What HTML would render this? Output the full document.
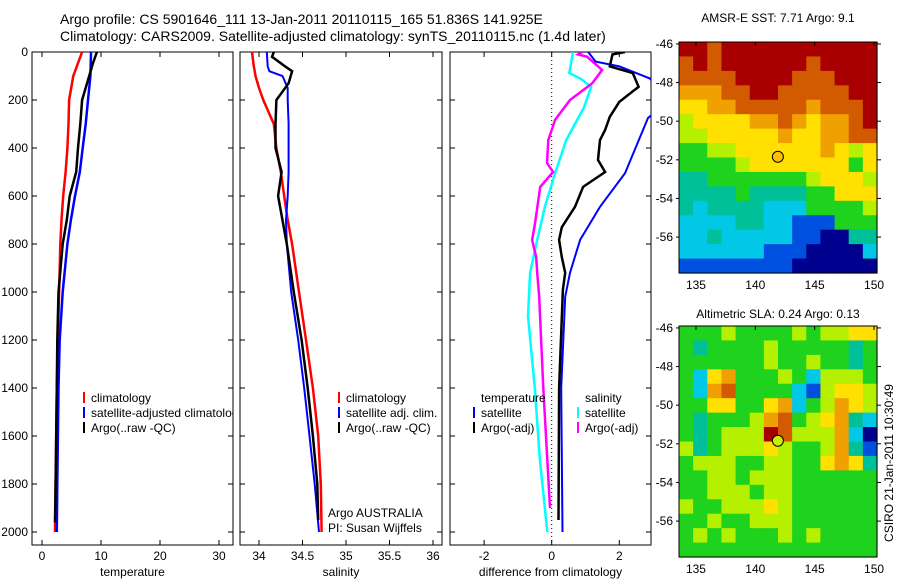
<!DOCTYPE html>
<html><head><meta charset="utf-8"><style>
body{margin:0;background:#fff}
svg{display:block;font-family:"Liberation Sans",sans-serif}
</style></head><body>
<svg id="fig" width="900" height="580" viewBox="0 0 900 580"></svg>
<script>
// ---- data ----
const depthTicks=[0,200,400,600,800,1000,1200,1400,1600,1800,2000];
const tempTicks=[0,10,20,30];
const salTicks=[34,34.5,35,35.5,36];
const diffTicks=[-2,0,2];
const zDepths=[0,100,200,300,400,500,600,700,800,1000,1200,1400,1600,1800,2000];
const tempClim=[6.8,5.3,4.6,4.5,4.3,4.0,3.6,3.3,3.1,2.9,2.7,2.5,2.4,2.3,2.2];
const tempSat=[8.3,8.2,7.8,7.4,6.9,6.4,5.6,4.9,4.3,3.5,3.0,2.8,2.7,2.6,2.5];
const argoDepths=[0,50,100,200,300,400,500,600,700,800,1000,1200,1400,1600,1800,1960];
const tempArgo=[9.3,8.6,8.0,6.8,6.5,6.1,5.8,4.7,4.2,3.5,2.8,2.6,2.5,2.4,2.3,2.2];
const salDepths=[0,60,80,100,150,200,300,400,500,600,700,800,1000,1200,1400,1600,1800,2000];
const salClim=[33.92,33.94,33.95,33.96,34.0,34.05,34.17,34.2,34.25,34.29,34.33,34.38,34.46,34.54,34.62,34.68,34.71,34.72];
const salSat=[34.09,34.1,34.12,34.27,34.33,34.33,34.34,34.34,34.34,34.33,34.31,34.32,34.37,34.45,34.52,34.58,34.64,34.69];
const salArgoDepths=[0,20,60,80,130,200,300,400,500,600,800,1000,1200,1400,1600,1800,1950];
const salArgo=[34.17,34.15,34.3,34.38,34.34,34.2,34.19,34.19,34.26,34.22,34.32,34.4,34.49,34.56,34.62,34.67,34.68];
const dTempSatDepths=[0,40,60,110,200,275,505,645,783,920,1020,1400,2000];
const dTempSat=[1.08,1.3,2.0,2.9,3.5,2.85,2.17,1.43,0.84,0.54,0.4,0.28,0.32];
const dTempArgoDepths=[0,10,60,88,145,208,270,325,367,450,500,562,645,730,783,854,920,990,1400,1950];
const dTempArgo=[2.17,1.8,1.72,2.4,2.57,2.0,1.72,1.58,1.43,1.37,1.58,0.93,0.69,0.3,0.22,0.3,0.4,0.33,0.22,0.2];
const dSalSatDepths=[0,88,110,145,230,367,505,645,783,920,1100,1400,1700,2000];
const dSalSat=[0.63,0.52,0.84,1.17,0.96,0.43,0.1,-0.2,-0.43,-0.64,-0.7,-0.5,-0.35,-0.13];
const dSalArgoDepths=[0,10,20,75,130,200,283,367,462,500,562,712,783,854,920,1020,1400,1900];
const dSalArgo=[0.9,0.78,1.05,1.49,1.2,0.54,0.1,-0.1,-0.14,0.04,-0.34,-0.49,-0.58,-0.46,-0.43,-0.37,-0.25,-0.05];
const lonTicks=[135,140,145,150];
const latTicks=[-46,-48,-50,-52,-54,-56];
const sstGrid=["99899999999999","89899999989999","88889999888999","77788998888899","66778888878889","56666778767789","55666667667788","44556666667656","44445666666646","33444444456665","33334333344666","32333322244445","22223322111444","22322222110033","22222211100002","11111111000000"];
const slaGrid=["44454444545566","43444454444434","44444454454434","42674445425554","42784444215665","44664467245765","43444578456732","43455598555720","53455565445731","45554455446763","44554555444444","44555455444444","54455565444444","44544555444444","45454445454444","44444444444444"];
const argoLon=141.9, argoLat=-51.84;
const palette=["#00008f","#0050e0","#00c8e6","#00c09a","#1ed21e","#b4f000","#ffe000","#f0a000","#d25a00","#a80000"];

// ---- helpers ----
const NS="http://www.w3.org/2000/svg";
const svg=document.getElementById('fig');
function mk(tag,attrs,parent){const e=document.createElementNS(NS,tag);for(const k in attrs)e.setAttribute(k,attrs[k]);(parent||svg).appendChild(e);return e;}
function txt(s,x,y,anchor,size,parent){const t=mk('text',{x:x,y:y,'text-anchor':anchor||'start','font-size':size||12,fill:'#000'},parent);t.textContent=s;return t;}
const yTop=52, pxPerM=0.24, yBot=545;
const yD=d=>yTop+d*pxPerM;

function panel(name,x0,x1,xs,ticks,tickFmt,label,showYLabels){
  const g=mk('g',{});
  
  
  const cid='clip-'+name;
  const cp=mk('clipPath',{id:cid},g);mk('rect',{x:x0,y:yTop,width:x1-x0,height:yBot-yTop},cp);
  const frame=mk('rect',{x:x0,y:yTop,width:x1-x0,height:yBot-yTop,fill:'none',stroke:'#000','stroke-width':1},g);
  
  
  depthTicks.forEach(d=>{const y=yD(d);
    mk('line',{x1:x0,x2:x0+5,y1:y,y2:y,stroke:'#000'},g);mk('line',{x1:x1-5,x2:x1,y1:y,y2:y,stroke:'#000'},g);
    if(showYLabels){const t=txt(String(d),x0-4,y+4,'end',12,g);}
  });
  ticks.forEach(v=>{const x=xs(v);
    mk('line',{x1:x,x2:x,y1:yBot,y2:yBot-5,stroke:'#000'},g);mk('line',{x1:x,x2:x,y1:yTop,y2:yTop+5,stroke:'#000'},g);
    const t=txt(tickFmt(v),x,560,'middle',12,g);
  });
  const xl=txt(label,(x0+x1)/2,576,'middle',12,g);
  
  
  return {g:g,clip:'url(#'+cid+')'};
}
function line(p,xs,depths,vals,color,w,name){
  const pts=depths.map((d,i)=>xs(vals[i]).toFixed(1)+','+yD(d).toFixed(1)).join(' ');
  const l=mk('polyline',{points:pts,fill:'none',stroke:color,'stroke-width':w,'clip-path':p.clip},p.g);
  
  
}
function legendEntry(g,x,y,color,label){
  mk('line',{x1:x,x2:x,y1:y-10,y2:y+1,stroke:color,'stroke-width':2},g);
  const t=txt(label,x+7,y,'start',12,g);
  
  
}

// title
const t1=txt('Argo profile: CS 5901646_111 13-Jan-2011 20110115_165 51.836S 141.925E',60,24,'start',14);


const t2=txt('Climatology: CARS2009. Satellite-adjusted climatology: synTS_20110115.nc (1.4d later)',60,41,'start',14);



// temperature panel
const xT=v=>42+v*5.9;
const pT=panel('temperature-panel',32,233,xT,tempTicks,v=>String(v),'temperature',true);
line(pT,xT,zDepths,tempClim,'#f00',2.5,'temp-climatology-line');
line(pT,xT,zDepths,tempSat,'#00f',2.5,'temp-satellite-line');
line(pT,xT,argoDepths,tempArgo,'#000',2.5,'temp-argo-line');
const lgT=mk('g',{'clip-path':pT.clip},pT.g);


legendEntry(lgT,84,402,'#f00','climatology');
legendEntry(lgT,84,417,'#00f','satellite-adjusted climatology');
legendEntry(lgT,84,432,'#000','Argo(..raw -QC)');

// salinity panel
const xS=v=>259+(v-34)*87;
const pS=panel('salinity-panel',240,442,xS,salTicks,v=>String(v),'salinity',false);
line(pS,xS,salDepths,salClim,'#f00',2.5,'sal-climatology-line');
line(pS,xS,salDepths,salSat,'#00f',2,'sal-satellite-line');
line(pS,xS,salArgoDepths,salArgo,'#000',2.5,'sal-argo-line');
const lgS=mk('g',{},pS.g);


legendEntry(lgS,339,402,'#f00','climatology');
legendEntry(lgS,339,417,'#00f','satellite adj. clim.');
legendEntry(lgS,339,432,'#000','Argo(..raw -QC)');
const a1=txt('Argo AUSTRALIA',328,517,'start',12,pS.g);


const a2=txt('PI: Susan Wijffels',328,532,'start',12,pS.g);



// difference panel
const xDf=v=>551.7+v*33.8;
const pD=panel('difference-panel',450,651,xDf,diffTicks,v=>v<0?'-'+Math.abs(v):String(v),'difference from climatology',false);
const zl=mk('line',{x1:xDf(0),x2:xDf(0),y1:yTop,y2:yBot,stroke:'#000','stroke-dasharray':'1,3'},pD.g);


line(pD,xDf,dSalSatDepths,dSalSat,'#0ff',2.5,'sal-satellite-diff-line');
line(pD,xDf,dSalArgoDepths,dSalArgo,'#f0f',2.5,'sal-argo-diff-line');
line(pD,xDf,dTempSatDepths,dTempSat,'#00f',2,'temp-satellite-diff-line');
line(pD,xDf,dTempArgoDepths,dTempArgo,'#000',2.5,'temp-argo-diff-line');
const lgD=mk('g',{},pD.g);


const lh1=txt('temperature',481,402,'start',12,lgD);
const lh2=txt('salinity',585,402,'start',12,lgD);
legendEntry(lgD,474,417,'#00f','satellite');
legendEntry(lgD,474,432,'#000','Argo(-adj)');
legendEntry(lgD,578,417,'#0ff','satellite');
legendEntry(lgD,578,432,'#f0f','Argo(-adj)');

// maps
const mx0=679,mx1=877,lonMin=133.57,lonMax=150.25,latMax=-45.9,latMin=-57.86;
function drawMap(name,top,bottom,grid,title,titleY,markerFill){
  const g=mk('g',{});
  
  
  const xs=l=>mx0+(l-lonMin)/(lonMax-lonMin)*(mx1-mx0);
  const ys=l=>top+(latMax-l)/(latMax-latMin)*(bottom-top);
  const rows=grid.length, cols=grid[0].length;
  const cw=(mx1-mx0)/cols, ch=(bottom-top)/rows;
  grid.forEach((row,r)=>{for(let c=0;c<cols;c++){
    const cell=mk('rect',{x:(mx0+c*cw).toFixed(2),y:(top+r*ch).toFixed(2),width:(cw+0.6).toFixed(2),height:(ch+0.6).toFixed(2),fill:palette[+row[c]]},g);
    
    
  }});
  mk('rect',{x:mx0,y:top,width:mx1-mx0,height:bottom-top,fill:'none',stroke:'#000'},g);
  lonTicks.forEach(l=>{const x=xs(l);mk('line',{x1:x,x2:x,y1:top,y2:top+4,stroke:'#000'},g);
    const t=txt(String(l),x,bottom+16,'middle',12,g);});
  latTicks.forEach(l=>{const y=ys(l);mk('line',{x1:mx1,x2:mx1+4,y1:y,y2:y,stroke:'#000'},g);mk('line',{x1:mx0-3,x2:mx0,y1:y,y2:y,stroke:'#000'},g);
    const t=txt(String(l),mx0-6,y+4,'end',12,g);});
  const tt=txt(title,(mx0+mx1)/2,titleY,'middle',12,g);
  
  
  const m=mk('circle',{cx:xs(argoLon),cy:ys(argoLat),r:5.5,fill:markerFill,stroke:'#000','stroke-width':1},g);
  
  
}
drawMap('sst-map',42,273,sstGrid,'AMSR-E SST: 7.71 Argo: 9.1',22,'#ffc000');
drawMap('sla-map',326,557,slaGrid,'Altimetric SLA: 0.24 Argo: 0.13',318,'#c8f000');
const vt=txt('CSIRO 21-Jan-2011 10:30:49',0,0,'middle',12);
vt.setAttribute('transform','translate(893,463) rotate(-90)');


</script>
</body></html>
